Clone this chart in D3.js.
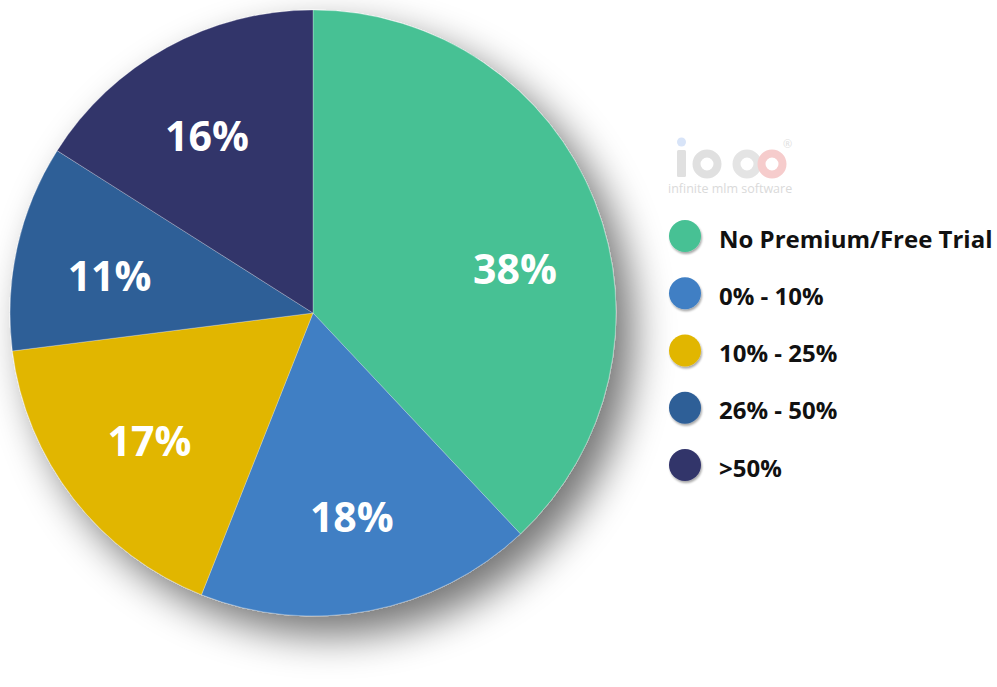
<!DOCTYPE html>
<html><head><meta charset="utf-8">
<script src="https://cdn.jsdelivr.net/npm/d3@7"></script>
<style>html,body{margin:0;padding:0;background:#fff;overflow:hidden}</style>
</head><body><svg id="c" width="997" height="687"></svg>
<script>
const categories = ["No Premium/Free Trial", "0% - 10%", "10% - 25%", "26% - 50%", ">50%"];
const values = [38, 18, 17, 11, 16];
const labels = ["38%", "18%", "17%", "11%", "16%"];
const colors = ["#46C194", "#3F7FC4", "#E1B603", "#2E5E97", "#32346B"];
const labelAngleNudge = [9, 0, 0, -2, -2]; // degrees, layout tweak

const svg = d3.select("#c");
const defs = svg.append("defs");
const f = defs.append("filter").attr("id","sh").attr("x","-40%").attr("y","-40%").attr("width","180%").attr("height","180%");
f.append("feGaussianBlur").attr("in","SourceAlpha").attr("stdDeviation",20).attr("result","b");
f.append("feOffset").attr("in","b").attr("dx",17).attr("dy",19).attr("result","o");
f.append("feComponentTransfer").attr("in","o").attr("result","o2").append("feFuncA").attr("type","linear").attr("slope",0.55);
const m = f.append("feMerge"); m.append("feMergeNode").attr("in","o2"); m.append("feMergeNode").attr("in","SourceGraphic");

const f2 = defs.append("filter").attr("id","sh2").attr("x","-50%").attr("y","-50%").attr("width","200%").attr("height","200%");
f2.append("feGaussianBlur").attr("in","SourceAlpha").attr("stdDeviation",1).attr("result","b");
f2.append("feOffset").attr("in","b").attr("dx",0.5).attr("dy",1.5).attr("result","o");
f2.append("feComponentTransfer").attr("in","o").attr("result","o2").append("feFuncA").attr("type","linear").attr("slope",0.35);
const m2 = f2.append("feMerge"); m2.append("feMergeNode").attr("in","o2"); m2.append("feMergeNode").attr("in","SourceGraphic");

const cx = 313, cy = 313, R = 303;
const pie = d3.pie().sort(null).value(d => d);
const arcs = pie(values);
const arc = d3.arc().innerRadius(0).outerRadius(R);
const g = svg.append("g").attr("transform", `translate(${cx},${cy})`);
const slices = g.append("g").attr("filter","url(#sh)");
slices.selectAll("path").data(arcs).join("path")
  .attr("d", arc).attr("fill", (d,i) => colors[i])
  .attr("stroke", "rgba(255,255,255,0.35)").attr("stroke-width", 0.8);

const lr = 207;
g.selectAll("text.lbl").data(arcs).join("text").attr("class","lbl")
  .attr("x", (d,i) => lr * Math.sin((d.startAngle+d.endAngle)/2 + labelAngleNudge[i]*Math.PI/180))
  .attr("y", (d,i) => -lr * Math.cos((d.startAngle+d.endAngle)/2 + labelAngleNudge[i]*Math.PI/180))
  .attr("text-anchor","middle").attr("dominant-baseline","central")
  .attr("fill","#fff").attr("font-family","'Open Sans', sans-serif").attr("font-weight",700)
  .attr("font-size",41).text((d,i) => labels[i]);

// logo
const logo = svg.append("g");
logo.append("rect").attr("x",677).attr("y",150).attr("width",9).attr("height",27).attr("rx",1.5).attr("fill","#e0e0e0");
logo.append("circle").attr("cx",681.5).attr("cy",142).attr("r",4.5).attr("fill","#d8e4f8");
logo.append("circle").attr("cx",707).attr("cy",164).attr("r",10.5).attr("fill","none").attr("stroke","#e0e0e0").attr("stroke-width",8);
logo.append("circle").attr("cx",747).attr("cy",164).attr("r",10.5).attr("fill","none").attr("stroke","#e4e4e4").attr("stroke-width",8);
logo.append("circle").attr("cx",772).attr("cy",164).attr("r",10.5).attr("fill","none").attr("stroke","#f6cccc").attr("stroke-width",8);
logo.append("text").attr("x",783).attr("y",148).attr("font-family","'Open Sans', sans-serif")
  .attr("font-size",11).attr("fill","#e0e0e0").text("®");
logo.append("text").attr("x",668).attr("y",193).attr("font-family","'Open Sans', sans-serif")
  .attr("font-size",12.5).attr("fill","#dadada").text("infinite mlm software");

// legend
const ly = d3.scalePoint().domain(categories).range([236, 465]);
const leg = svg.append("g");
const row = leg.selectAll("g").data(categories).join("g").attr("transform", d => `translate(685,${ly(d)})`);
row.append("circle").attr("r",16).attr("fill",(d,i)=>colors[i]).attr("filter","url(#sh2)");
row.append("text").attr("x",34).attr("y",2).attr("dominant-baseline","central")
  .attr("font-family","'Open Sans', sans-serif").attr("font-weight",700).attr("font-size",24)
  .attr("fill","#111").text(d => d);
</script></body></html>
